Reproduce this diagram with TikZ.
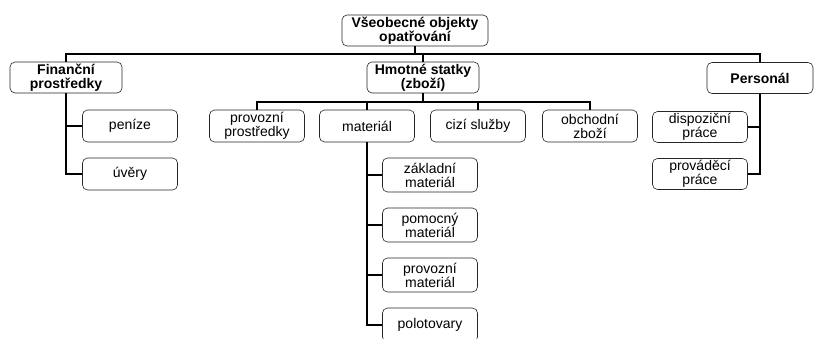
\documentclass[tikz,border=0pt]{standalone}
\usepackage{fontspec}
\setmainfont{Liberation Sans}
\usetikzlibrary{positioning}

\begin{document}
\begin{tikzpicture}[x=1pt,y=-1pt,
  box/.style={draw=black!85,line width=0.6pt,rounded corners=5pt,align=center,
    inner sep=0pt,minimum width=95pt,minimum height=32pt,
    font=\fontsize{14pt}{14pt}\selectfont},
  head/.style={box,font=\fontsize{14pt}{14pt}\selectfont\bfseries,minimum height=31pt},
  conn/.style={line width=2pt}]
\clip (0,0) rectangle (814,338);
\fill[white] (0,0) rectangle (814,338);
% top
\node[head,minimum width=146pt] at (415,30.5) (top){Všeobecné objekty\\opatřování};
\coordinate (bus) at (415,54);
% first level
\node[head,minimum width=112pt] at (66,77.5) (fin){Finanční\\prostředky};
\node[head,minimum width=112pt] at (423,77.5) (hmot){Hmotné statky\\(zboží)};
\node[head,minimum width=106pt] at (760,78) (pers){Personál};
\draw[conn] (fin.north) |- (bus) -| (pers.north);
\draw[conn] (top.south) -- (bus);
\draw[conn] (hmot.north) -- (hmot.north |- bus);

% financni
\node[box] at (130,126) (penize){peníze};
\node[box] at ([yshift=-48pt]penize) (uvery){úvěry};
\draw[conn] (fin.south) |- (uvery.west);
\draw[conn] (penize.west) -- (penize.west -| fin.south);

% hmotne statky
\coordinate (hbus) at (423,102);
\node[box] at (257,126) (prov){provozní\\prostředky};
\node[box] at (367,126) (mat){materiál};
\node[box] at (478,126) (cizi){cizí služby};
\node[box] at (590,126) (obch){obchodní\\zboží};
\draw[conn] (prov.north) |- (hbus) -| (obch.north);
\draw[conn] (hmot.south) -- (hbus);
\draw[conn] (mat.north) -- (mat.north |- hbus);
\draw[conn] (cizi.north) -- (cizi.north |- hbus);

% material
\node[box,minimum height=34pt] at (430,175) (zakl){základní\\materiál};
\node[box,minimum height=34pt] at ([yshift=-50pt]zakl) (pomoc){pomocný\\materiál};
\node[box,minimum height=34pt] at ([yshift=-50pt]pomoc) (provm){provozní\\materiál};
\node[box,minimum height=34pt] at ([yshift=-50pt]provm) (polo){polotovary};
\draw[conn] (mat.south) |- (polo.west);
\draw[conn] (zakl.west) -- (zakl.west -| mat.south);
\draw[conn] (pomoc.west) -- (pomoc.west -| mat.south);
\draw[conn] (provm.west) -- (provm.west -| mat.south);

% personal
\node[box,minimum height=31pt] at (700,127) (disp){dispoziční\\práce};
\node[box,minimum height=31pt] at ([yshift=-47pt]disp) (prova){prováděcí\\práce};
\draw[conn] (pers.south) |- (prova.east);
\draw[conn] (disp.east) -- (disp.east -| pers.south);
\end{tikzpicture}
\end{document}
